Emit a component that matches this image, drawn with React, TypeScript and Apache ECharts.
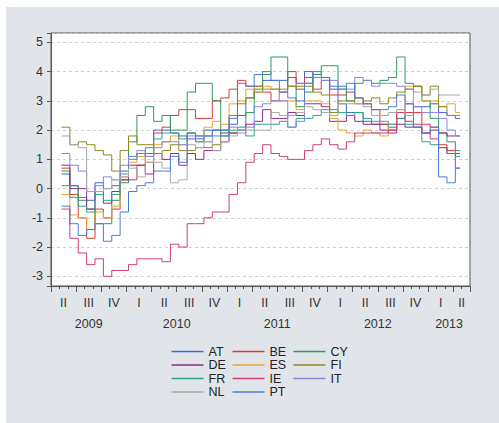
import React, { useEffect, useRef } from 'react';
import * as echarts from 'echarts';

// Monthly observations Apr 2009 .. Mar 2013, plotted on a month axis (months since Jan 2009)
const firstObs = 4.25;
const lastObsEnd = 51.8;

const countries = ['AT', 'BE', 'CY', 'DE', 'ES', 'FI', 'FR', 'IE', 'IT', 'NL', 'PT'];
const colors = ['#3f66d0', '#d8383c', '#2e9a5a', '#8e2a8c', '#e8a634', '#8c8a1c', '#2fa489', '#cf3f78', '#8a84e2', '#a8a8a8', '#4a7ad6'];

const AT = [0.5, 0.1, -0.3, -0.4, 0.2, 0.0, 0.1, 0.6, 1.1, 1.2, 1.1, 2.0, 2.0, 1.9, 1.8, 1.7, 1.7, 2.0, 2.0, 2.0, 2.2, 2.5, 3.1, 3.3, 3.7, 3.7, 3.7, 3.8, 3.6, 4.0, 3.8, 3.8, 3.4, 2.9, 2.6, 2.6, 2.3, 2.2, 2.2, 2.1, 2.4, 2.9, 2.8, 2.8, 2.9, 2.6, 2.5, 2.4];
const BE = [0.7, -0.2, -1.0, -1.7, -0.7, -1.0, -0.7, 0.3, 0.3, 0.8, 1.2, 1.9, 2.1, 2.5, 2.7, 2.7, 2.4, 2.4, 3.0, 3.1, 3.4, 3.7, 3.5, 3.5, 3.3, 3.0, 3.3, 4.0, 3.4, 3.8, 3.4, 3.7, 3.2, 3.2, 3.3, 3.1, 2.9, 2.7, 2.2, 2.0, 2.6, 2.6, 2.6, 2.2, 2.1, 1.5, 1.3, 1.2];
const CY = [0.6, 0.1, -0.4, -0.7, -1.2, -1.2, -0.4, 0.2, 1.6, 2.5, 2.8, 2.3, 2.5, 2.0, 2.0, 3.3, 3.6, 3.6, 3.0, 2.0, 1.9, 2.1, 2.6, 3.4, 3.9, 4.5, 4.5, 3.5, 2.8, 3.3, 3.9, 4.2, 4.2, 3.5, 3.0, 3.6, 3.7, 3.6, 3.7, 3.8, 4.5, 3.6, 3.5, 3.0, 2.4, 1.9, 1.6, 1.3];
const DE = [0.8, 0.0, 0.0, -0.7, -0.1, -0.5, -0.1, 0.3, 0.8, 0.8, 0.5, 1.2, 1.0, 1.2, 0.8, 1.2, 1.0, 1.3, 1.3, 1.6, 1.9, 2.0, 2.2, 2.3, 2.7, 2.4, 2.4, 2.6, 2.5, 2.9, 2.9, 2.8, 2.3, 2.3, 2.5, 2.3, 2.2, 2.2, 2.0, 1.9, 2.2, 2.1, 2.1, 1.9, 2.0, 1.9, 1.8, 1.8];
const ES = [-0.2, -0.9, -1.0, -1.4, -0.8, -1.0, -0.6, 0.4, 0.9, 1.1, 0.9, 1.5, 1.6, 1.8, 1.5, 1.9, 1.6, 2.1, 2.3, 2.2, 2.9, 3.0, 3.4, 3.3, 3.5, 3.4, 3.0, 3.0, 2.7, 3.0, 3.0, 2.9, 2.4, 2.0, 1.9, 1.8, 2.0, 1.9, 1.8, 2.2, 2.7, 3.5, 3.5, 3.0, 3.0, 2.8, 2.9, 2.6];
const FI = [2.1, 1.5, 1.6, 1.5, 1.3, 1.15, 0.6, 1.3, 1.8, 1.5, 1.5, 1.2, 1.3, 1.5, 1.3, 1.3, 1.4, 1.4, 1.5, 1.9, 2.5, 2.9, 3.1, 3.5, 3.4, 3.4, 3.4, 3.5, 3.5, 3.5, 3.3, 3.2, 2.6, 3.0, 3.0, 2.9, 3.0, 3.1, 2.9, 3.1, 3.3, 3.4, 3.5, 3.2, 3.5, 2.8, 2.5, 2.5];
const FR = [0.1, -0.3, -0.6, -0.8, -0.2, -0.4, -0.2, 0.5, 1.0, 1.2, 1.4, 1.7, 1.9, 1.9, 1.7, 1.9, 1.6, 1.8, 1.8, 1.8, 2.0, 2.0, 1.8, 2.2, 2.2, 2.2, 2.3, 2.1, 2.4, 2.4, 2.5, 2.7, 2.7, 2.6, 2.5, 2.6, 2.4, 2.3, 2.3, 2.2, 2.4, 2.2, 2.1, 1.6, 1.5, 1.4, 1.2, 1.1];
const IE = [-0.7, -1.7, -2.2, -2.6, -2.4, -3.0, -2.8, -2.8, -2.6, -2.4, -2.4, -2.4, -2.5, -1.9, -2.0, -1.2, -1.2, -1.0, -0.8, -0.8, -0.2, 0.2, 0.9, 1.2, 1.5, 1.2, 1.1, 1.0, 1.0, 1.3, 1.5, 1.7, 1.5, 1.35, 1.6, 1.9, 1.9, 1.9, 1.9, 2.0, 2.6, 2.3, 2.2, 1.9, 1.7, 1.4, 1.2, 0.7];
const IT = [1.2, 0.8, 0.6, -0.1, 0.1, 0.4, 0.3, 0.8, 1.1, 1.3, 1.1, 1.4, 1.6, 1.6, 1.5, 1.8, 1.8, 1.6, 2.0, 1.9, 2.1, 1.9, 2.1, 2.8, 2.9, 3.0, 3.0, 2.1, 2.3, 3.6, 3.8, 3.7, 3.7, 3.4, 3.4, 3.8, 3.7, 3.5, 3.6, 3.6, 3.5, 3.4, 2.8, 2.6, 2.6, 2.4, 2.0, 1.8];
const NL = [1.8, 1.5, 1.4, -0.1, -0.1, 0.0, 0.3, 0.4, 0.7, 0.4, 0.9, 0.9, 0.7, 0.2, 0.3, 1.5, 1.4, 1.6, 1.3, 1.6, 1.8, 2.0, 2.0, 2.0, 2.0, 2.6, 2.5, 2.5, 2.6, 2.8, 2.7, 2.6, 2.5, 2.9, 2.9, 2.9, 2.8, 2.5, 2.5, 2.6, 2.7, 2.5, 3.3, 3.2, 3.4, 3.2, 3.2, 3.2];
const PT = [-0.6, -1.2, -1.6, -1.4, -1.2, -1.8, -1.6, -0.8, -0.1, 0.1, 0.2, 0.6, 0.6, 1.1, 0.9, 1.9, 1.8, 1.8, 2.0, 1.8, 2.4, 3.6, 3.5, 3.9, 4.0, 3.7, 3.3, 3.1, 3.0, 3.6, 4.0, 3.8, 3.5, 3.4, 3.6, 3.1, 2.9, 2.7, 2.7, 2.8, 3.2, 2.9, 2.1, 1.9, 2.1, 0.4, 0.2, 0.7];

const seriesValues = [AT, BE, CY, DE, ES, FI, FR, IE, IT, NL, PT];

const quarterPos = [4.5, 7.5, 10.5, 13.5, 16.5, 19.5, 22.5, 25.5, 28.5, 31.5, 34.5, 37.5, 40.5, 43.5, 46.5, 49.5, 52];
const quarterText = ['II', 'III', 'IV', 'I', 'II', 'III', 'IV', 'I', 'II', 'III', 'IV', 'I', 'II', 'III', 'IV', 'I', 'II'];
const yearPos = [7.5, 18, 30, 42, 50.5];
const yearText = ['2009', '2010', '2011', '2012', '2013'];

const legendCols = [
  ['AT', 'DE', 'FR', 'NL'],
  ['BE', 'ES', 'IE', 'PT'],
  ['CY', 'FI', 'IT'],
];
const legendLeft = [171.5, 232.5, 293.5];

const FONT = '"Liberation Sans", Arial, sans-serif';
const AXIS_COLOR = '#555';
const X_MIN = 3;
const X_MAX = 53;

function lookup(pos: number[], text: string[]) {
  return (v: number) => {
    const i = pos.findIndex((p) => Math.abs(p - v) < 0.01);
    return i >= 0 ? text[i] : '';
  };
}

export default function App() {
  const ref = useRef<HTMLDivElement>(null);
  useEffect(() => {
    if (!ref.current) return;
    const chart = echarts.init(ref.current, undefined, { renderer: 'svg' });
    const baseX = {
      type: 'value' as const,
      min: X_MIN,
      max: X_MAX,
      position: 'bottom' as const,
      gridIndex: 0,
      splitLine: { show: false },
    };
    const option: any = {
      animation: false,
      color: colors,
      backgroundColor: '#e1e5ea',
      textStyle: { fontFamily: FONT },
      graphic: [
        { type: 'rect', left: 0, top: 0, shape: { width: 499, height: 7 }, style: { fill: '#ffffff' }, silent: true },
        { type: 'rect', left: 0, top: 0, shape: { width: 6, height: 423 }, style: { fill: '#ffffff' }, silent: true },
      ],
      grid: {
        left: 51,
        top: 33,
        right: 29,
        bottom: 137,
        show: true,
        backgroundColor: '#ffffff',
        borderColor: AXIS_COLOR,
        borderWidth: 1,
      },
      xAxis: [
        {
          ...baseX,
          interval: 1,
          axisLine: { show: true, onZero: false, lineStyle: { color: AXIS_COLOR } },
          axisTick: { show: true, length: 3, lineStyle: { color: AXIS_COLOR } },
          axisLabel: { show: false },
        },
        {
          ...baseX,
          interval: 3,
          axisLine: { show: false, onZero: false },
          axisTick: { show: true, length: 6, lineStyle: { color: AXIS_COLOR } },
          axisLabel: { show: false },
        },
        {
          ...baseX,
          interval: 0.5,
          axisLine: { show: false, onZero: false },
          axisTick: { show: false },
          axisLabel: { show: true, margin: 10, color: '#333', fontSize: 12.5, fontFamily: FONT, formatter: lookup(quarterPos, quarterText) },
        },
        {
          ...baseX,
          interval: 0.5,
          axisLine: { show: false, onZero: false },
          axisTick: { show: false },
          axisLabel: { show: true, margin: 31, color: '#333', fontSize: 12.5, fontFamily: FONT, formatter: lookup(yearPos, yearText) },
        },
      ],
      yAxis: {
        type: 'value',
        min: -3.33,
        max: 5.32,
        splitNumber: 8,
        axisLine: { show: true, onZero: false, lineStyle: { color: AXIS_COLOR } },
        axisTick: { show: true, length: 4, lineStyle: { color: AXIS_COLOR } },
        axisLabel: {
          color: '#333',
          fontSize: 12.5,
          fontFamily: FONT,
          margin: 8,
          formatter: (v: number) => (Math.abs(v - Math.round(v)) < 1e-6 ? String(Math.round(v)) : ''),
        },
        splitLine: { show: true, lineStyle: { color: '#cfcfcf', type: [3, 3], width: 1 } },
      },
      legend: legendCols.map((col, i) => ({
        data: col,
        orient: 'vertical',
        left: legendLeft[i],
        top: 345,
        padding: 0,
        icon: 'rect',
        itemWidth: 32,
        itemHeight: 1.5,
        itemGap: 0.5,
        selectedMode: false,
        itemStyle: { borderWidth: 0 },
        textStyle: { fontSize: 12.5, lineHeight: 13, color: '#222', fontFamily: FONT },
      })),
      series: countries.map((name, i) => {
        const vals = seriesValues[i];
        const data = vals.map((v, k) => [firstObs + k, v]);
        data.push([lastObsEnd, vals[vals.length - 1]]);
        return {
          name,
          type: 'line',
          step: 'end',
          symbol: 'none',
          showSymbol: false,
          xAxisIndex: 0,
          yAxisIndex: 0,
          itemStyle: { color: colors[i], borderWidth: 0 },
          lineStyle: { width: 1, color: colors[i] },
          data,
        };
      }),
    };
    chart.setOption(option);
    return () => chart.dispose();
  }, []);
  return <div ref={ref} style={{ position: 'fixed', left: 0, top: 0, width: 499, height: 423 }} />;
}
